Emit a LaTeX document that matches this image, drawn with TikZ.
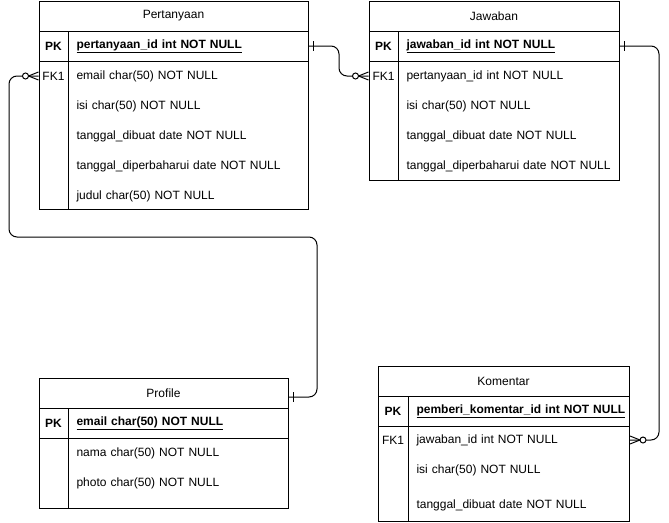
\documentclass[tikz,border=0pt]{standalone}
\usepackage{fontspec}
\setmainfont{Liberation Sans}
\usetikzlibrary{positioning}

\begin{document}
\begin{tikzpicture}[x=1pt, y=-1pt, line width=1pt,
    every node/.style={font=\fontsize{12}{14}\selectfont},
    hdr/.style={draw, minimum width=#1, minimum height=30pt, inner sep=0pt, outer sep=0pt},
    key/.style={minimum width=29pt, minimum height=30pt, inner sep=0pt},
    fld/.style={anchor=west, minimum height=30pt, inner xsep=8pt, inner ysep=0pt, text width=#1, align=left}]
  \useasboundingbox (0,0) rectangle (669,522);

  % Pertanyaan
  \node[hdr=269pt] (ptitle) at (173.5,16) {Pertanyaan};
  \node[hdr=269pt, below=0pt of ptitle] (ppk) {};
  \draw (39,61) rectangle (308,209);
  \draw (68,31) -- (68,209);
  \node[key] at (53.5,46) {\textbf{PK}};
  \node[fld=224pt] at (68,46) {\textbf{\underline{pertanyaan\_id int NOT NULL}}};
  \node[key] (pfk) at (53.5,76) {FK1};
  \foreach \t [count=\i] in {email char(50) NOT NULL, isi char(50) NOT NULL,
      tanggal\_dibuat date NOT NULL, tanggal\_diperbaharui date NOT NULL, judul char(50) NOT NULL}
    \node[fld=224pt] (pf\i) at (68,46+30*\i) {\t};

  % Jawaban
  \node[hdr=250pt] (jtitle) at (494,16) {Jawaban};
  \node[hdr=250pt, below=0pt of jtitle] (jpk) {};
  \draw (369,61) rectangle (619,180);
  \draw (398,31) -- (398,180);
  \node[key] at (383.5,46) {\textbf{PK}};
  \node[fld=205pt] at (398,46) {\textbf{\underline{jawaban\_id int NOT NULL}}};
  \node[key] (jfk) at (383.5,76) {FK1};
  \foreach \t [count=\i] in {pertanyaan\_id int NOT NULL, isi char(50) NOT NULL,
      tanggal\_dibuat date NOT NULL, tanggal\_diperbaharui date NOT NULL}
    \node[fld=205pt] (jf\i) at (398,46+30*\i) {\t};

  % Profile
  \node[hdr=249pt] (rtitle) at (163.5,393) {Profile};
  \node[hdr=249pt, below=0pt of rtitle] (rpk) {};
  \draw (39,438) rectangle (288,508);
  \draw (68,408) -- (68,508);
  \node[key] at (53.5,423) {\textbf{PK}};
  \node[fld=204pt] at (68,423) {\textbf{\underline{email char(50) NOT NULL}}};
  \foreach \t [count=\i] in {nama char(50) NOT NULL, photo char(50) NOT NULL}
    \node[fld=204pt] (rf\i) at (68,423+30*\i) {\t};

  % Komentar
  \node[hdr=251pt] (ktitle) at (503.5,381) {Komentar};
  \node[hdr=251pt, below=0pt of ktitle] (kpk) {};
  \draw (378,426) rectangle (629,521);
  \draw (408,396) -- (408,521);
  \node[key] at (393,411) {\textbf{PK}};
  \node[fld=205pt] at (408,411) {\textbf{\underline{pemberi\_komentar\_id int NOT NULL}}};
  \node[key] (kfk) at (393,440) {FK1};
  \foreach \t/\y [count=\i] in {jawaban\_id int NOT NULL/440, isi char(50) NOT NULL/470,
      tanggal\_dibuat date NOT NULL/505}
    \node[fld=205pt] (kf\i) at (408,\y) {\t};

  % relations
  \coordinate (rlink) at ([yshift=-4pt]rtitle.east);
  \coordinate (bend) at (9,237);
  \draw[rounded corners=8pt] (ppk.east) -- ++(31,0) |- (jfk.west);
  \draw[rounded corners=8pt] (jpk.east) -- ++(40,0) |- (kf1.east);
  \draw[rounded corners=8pt] (rlink) -- ++(29,0) |- (bend) |- (pfk.west);
  \foreach \a in {ppk.east, jpk.east, rlink}
    \draw (\a) ++(5,-5) -- ++(0,10);
  \foreach \a/\d in {pfk.west/-1, jfk.west/-1, kf1.east/1}{
    \draw (\a) ++(10*\d,0) -- ++(-10*\d,-4) (\a) ++(10*\d,0) -- ++(-10*\d,4);
    \draw[fill=white] (\a) ++(13*\d,0) circle (3);
  }
\end{tikzpicture}
\end{document}
